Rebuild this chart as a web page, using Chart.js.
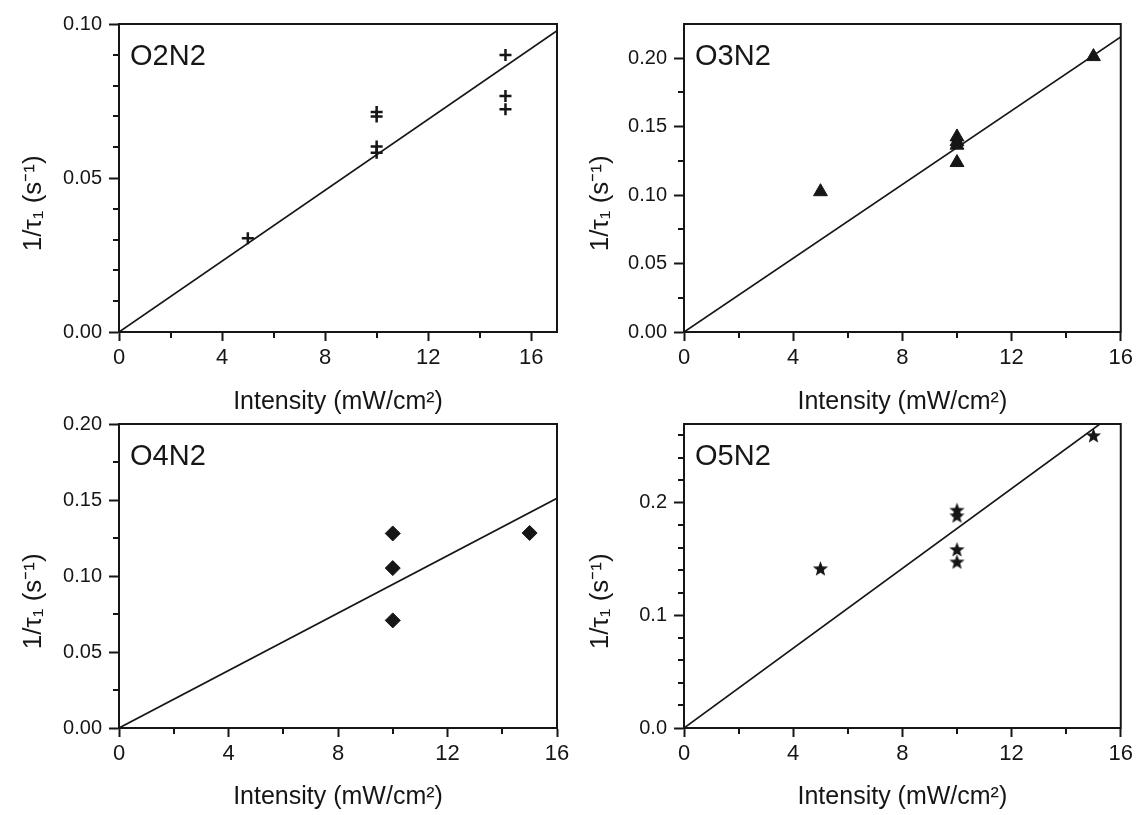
<!DOCTYPE html>
<html>
<head>
<meta charset="utf-8">
<script src="https://cdn.jsdelivr.net/npm/chart.js@4"></script>
<style>
  body { margin: 0; background: #fff; }
  #wrap { position: relative; width: 1137px; height: 815px; overflow: hidden; background: #fff; }
  canvas { position: absolute; }
</style>
</head>
<body>
<div id="wrap">
  <canvas id="o2n2" width="580" height="420" style="left:0;top:0"></canvas>
  <canvas id="o3n2" width="570" height="420" style="left:567px;top:0"></canvas>
  <canvas id="o4n2" width="580" height="410" style="left:0;top:405px"></canvas>
  <canvas id="o5n2" width="570" height="410" style="left:567px;top:405px"></canvas>
</div>
<script>
// shared x axis
const xTicks = [0, 4, 8, 12, 16];
const xMinor = [2, 6, 10, 14];

// O2N2
const o2n2X = [5, 10, 10, 10, 10, 15, 15, 15];
const o2n2Y = [0.0304, 0.0714, 0.0700, 0.0602, 0.0582, 0.0899, 0.0766, 0.0723];
const o2n2FitX = [0, 17];
const o2n2FitY = [0, 0.0978];
const o2n2YTicks = [0, 0.05, 0.10];
const o2n2YMinor = [0.01, 0.02, 0.03, 0.04, 0.06, 0.07, 0.08, 0.09];

// O3N2
const o3n2X = [5, 10, 10, 10, 10, 15];
const o3n2Y = [0.1025, 0.1425, 0.1390, 0.1365, 0.1238, 0.2012];
const o3n2FitX = [0, 16];
const o3n2FitY = [0, 0.2156];
const o3n2YTicks = [0, 0.05, 0.10, 0.15, 0.20];
const o3n2YMinor = [0.025, 0.075, 0.125, 0.175];

// O4N2
const o4n2X = [10, 10, 10, 15];
const o4n2Y = [0.1280, 0.1052, 0.0708, 0.1283];
const o4n2FitX = [0, 16];
const o4n2FitY = [0, 0.1512];
const o4n2YTicks = [0, 0.05, 0.10, 0.15, 0.20];
const o4n2YMinor = [0.025, 0.075, 0.125, 0.175];

// O5N2
const o5n2X = [5, 10, 10, 10, 10, 15];
const o5n2Y = [0.1415, 0.1935, 0.1885, 0.1585, 0.1475, 0.2597];
const o5n2FitX = [0, 16];
const o5n2FitY = [0, 0.2835];
const o5n2YTicks = [0, 0.1, 0.2];
const o5n2YMinor = [0.02, 0.04, 0.06, 0.08, 0.12, 0.14, 0.16, 0.18, 0.22, 0.24, 0.26];

const FONT = '"Liberation Sans", Arial, sans-serif';
const INK = '#161616';
Chart.defaults.font.family = FONT;

// filled five point star for O5N2
const star = document.createElement('canvas');
star.width = 17;
star.height = 17;
(function(){
  const c = star.getContext('2d');
  c.fillStyle = INK;
  c.beginPath();
  for (let i = 0; i < 10; i++) {
    const r = i % 2 === 0 ? 8 : 3.4;
    const a = -Math.PI / 2 + i * Math.PI / 5;
    const px = 8.5 + r * Math.cos(a), py = 9 + r * Math.sin(a);
    if (i === 0) c.moveTo(px, py); else c.lineTo(px, py);
  }
  c.closePath();
  c.fill();
})();

// box, minor ticks and panel name
const framePlugin = {
  id: 'frame',
  afterDraw(chart, args, opts) {
    const {ctx, chartArea: a, scales} = chart;
    ctx.save();
    ctx.strokeStyle = INK;
    ctx.lineWidth = 2;
    ctx.strokeRect(a.left, a.top, a.right - a.left, a.bottom - a.top);
    ctx.beginPath();
    opts.xMinor.forEach(v => {
      const px = Math.round(scales.x.getPixelForValue(v));
      ctx.moveTo(px, a.bottom);
      ctx.lineTo(px, a.bottom + 6);
    });
    opts.yMinor.forEach(v => {
      const py = Math.round(scales.y.getPixelForValue(v));
      ctx.moveTo(a.left, py);
      ctx.lineTo(a.left - 6, py);
    });
    ctx.stroke();
    ctx.fillStyle = INK;
    ctx.font = '29px ' + FONT;
    ctx.fillText(opts.label, a.left + 11, a.top + 41);
    ctx.restore();
  }
};

function makePanel(cfg) {
  const pts = cfg.x.map((v, i) => ({x: v, y: cfg.y[i]}));
  const fit = cfg.fitX.map((v, i) => ({x: v, y: cfg.fitY[i]}));
  return new Chart(document.getElementById(cfg.id), {
    type: 'scatter',
    data: {
      datasets: [
        {
          data: pts,
          pointStyle: cfg.style,
          pointRadius: cfg.radius,
          pointBorderWidth: cfg.bw,
          borderColor: INK,
          backgroundColor: INK
        },
        {
          data: fit,
          showLine: true,
          borderColor: INK,
          borderWidth: 1.7,
          pointRadius: 0
        }
      ]
    },
    options: {
      responsive: false,
      animation: false,
      events: [],
      devicePixelRatio: 1,
      layout: { padding: { top: cfg.padTop, right: cfg.padRight, left: 0, bottom: 0 } },
      plugins: {
        legend: { display: false },
        tooltip: { enabled: false },
        frame: { label: cfg.label, xMinor: xMinor, yMinor: cfg.yMinor }
      },
      scales: {
        x: {
          type: 'linear',
          min: 0,
          max: cfg.xMax,
          afterBuildTicks: s => { s.ticks = xTicks.map(v => ({value: v})); },
          afterFit: s => { s.height = cfg.xHeight; },
          grid: { drawOnChartArea: false, drawTicks: true, tickLength: 9, tickWidth: 2, tickColor: INK },
          border: { color: INK, width: 2 },
          ticks: { color: INK, font: { size: 22 }, padding: 4, autoSkip: false, maxRotation: 0, callback: v => String(v) },
          title: { display: true, text: 'Intensity (mW/cm²)', color: INK, font: { size: 25 }, padding: { top: 0, bottom: 3 } }
        },
        y: {
          type: 'linear',
          min: 0,
          max: cfg.yMax,
          afterBuildTicks: s => { s.ticks = cfg.yTicks.map(v => ({value: v})); },
          afterFit: s => { s.width = cfg.yWidth; },
          grid: { drawOnChartArea: false, drawTicks: true, tickLength: 10, tickWidth: 2, tickColor: INK },
          border: { color: INK, width: 2 },
          ticks: { color: INK, font: { size: 20 }, padding: 7, callback: v => v.toFixed(cfg.digits) },
          title: { display: true, text: '1/τ₁ (s⁻¹)       ', color: INK, font: { size: 26 }, padding: { top: 18, bottom: 0 } }
        }
      }
    },
    plugins: [framePlugin]
  });
}

makePanel({ id: 'o2n2', label: 'O2N2', x: o2n2X, y: o2n2Y, fitX: o2n2FitX, fitY: o2n2FitY,
  xMax: 17, yMax: 0.10, yTicks: o2n2YTicks, yMinor: o2n2YMinor, digits: 2,
  style: 'cross', radius: 6, bw: 2.5, padTop: 24, padRight: 23, xHeight: 88, yWidth: 119 });

makePanel({ id: 'o3n2', label: 'O3N2', x: o3n2X, y: o3n2Y, fitX: o3n2FitX, fitY: o3n2FitY,
  xMax: 16, yMax: 0.225, yTicks: o3n2YTicks, yMinor: o3n2YMinor, digits: 2,
  style: 'triangle', radius: 8, bw: 1, padTop: 24, padRight: 16, xHeight: 88, yWidth: 117 });

makePanel({ id: 'o4n2', label: 'O4N2', x: o4n2X, y: o4n2Y, fitX: o4n2FitX, fitY: o4n2FitY,
  xMax: 16, yMax: 0.20, yTicks: o4n2YTicks, yMinor: o4n2YMinor, digits: 2,
  style: 'rectRot', radius: 7.5, bw: 1, padTop: 16, padRight: 23, xHeight: 87, yWidth: 119 });

makePanel({ id: 'o5n2', label: 'O5N2', x: o5n2X, y: o5n2Y, fitX: o5n2FitX, fitY: o5n2FitY,
  xMax: 16, yMax: 0.27, yTicks: o5n2YTicks, yMinor: o5n2YMinor, digits: 1,
  style: star, radius: 8, bw: 1, padTop: 16, padRight: 16, xHeight: 87, yWidth: 117 });
</script>
</body>
</html>
